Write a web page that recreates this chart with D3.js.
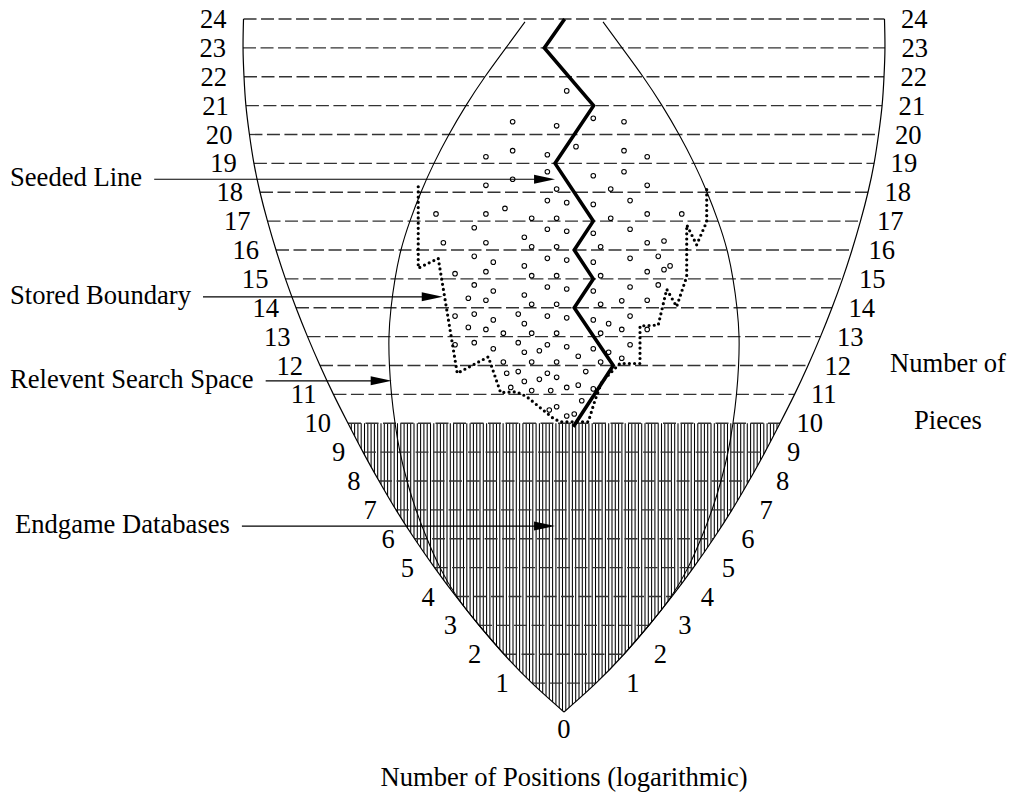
<!DOCTYPE html>
<html>
<head>
<meta charset="utf-8">
<script src="https://cdn.jsdelivr.net/npm/d3@7"></script>
<style>
  body { margin: 0; background: #fff; }
  text { font-family: "Liberation Serif", "Times New Roman", serif; font-size: 26.6px; fill: #000; }
</style>
</head>
<body>
<div id="chart"></div>
<script>
// Number of pieces on the board, one row per level.
var levels = d3.range(0, 25);

// Half width of the whole space at each level (log10 of the number of positions).
var outerWidth = [0, 2.0, 3.75, 5.31, 6.75, 8.09, 9.34, 10.5, 11.56, 12.56, 13.5, 14.41, 15.25,
                  16.03, 16.75, 17.41, 18.0, 18.53, 19.0, 19.38, 19.66, 19.88, 20.0, 20.06, 20.03];

// Half width of the relevant search space.
var innerLevels = [2, 3, 4, 5, 6, 7, 8, 9, 10, 11, 12, 13, 14, 15, 16, 17, 18, 19, 20, 21, 22, 23, 23.9];
var innerWidth  = [3.75, 5.3, 6.7, 7.75, 8.56, 9.25, 9.81, 10.25, 10.56, 10.78, 10.91, 10.94, 10.81,
                   10.56, 10.19, 9.63, 8.94, 8.13, 7.19, 6.13, 4.94, 3.63, 2.44];

// Endgame databases reach up to this many pieces.
var databaseLevel = 10;

// The seeded line (thick zig-zag).
var seedX     = [0.04, -1.23, 1.85, -0.56, 1.83, 0.64, 1.83, 0.64, 3.08, 0.58];
var seedLevel = [24, 23, 21, 19, 17, 16, 15, 14, 12, 9.88];

// The stored boundary (dotted).
var boundaryX     = [-9.11, -9.11, -7.86, -6.67, -4.73, -3.96, -2.96, -2.33, -0.67, -0.25, 1.52, 1.94,
                     2.36, 3.08, 3.5, 4.75, 4.75, 5.89, 6.42, 7.04, 7.67, 7.67, 8.29, 8.92, 8.92];
var boundaryLevel = [18.19, 15.37, 15.71, 11.73, 12.30, 11.06, 11.09, 10.92, 10.17, 10.05, 10.05, 10.80,
                     11.43, 11.84, 12.07, 12.07, 13.37, 13.40, 14.64, 14.04, 15.08, 16.87, 16.18, 16.98, 18.19];

// Searched positions (small open circles): [log positions, level].
var searched = [
  [0.17,21.51],[1.83,20.56],[-3.21,20.44],[-0.46,20.30],[3.75,20.44],
  [0.75,19.58],[-4.88,19.23],[-3.21,19.44],[-1.04,19.30],[3.75,19.44],[5.2,19.23],
  [-1.04,18.71],[1.83,18.57],[3.75,18.71],[-4.88,18.24],[-3.21,18.45],[-0.46,18.11],[2.92,18.11],[5.2,18.24],
  [-1.04,17.71],[0.17,17.64],[1.83,17.58],[4.13,17.71],
  [-8.0,17.25],[-4.88,17.25],[-3.69,17.44],[-2.02,17.10],[-0.46,17.10],[2.92,17.10],[5.2,17.25],[7.36,17.25],
  [-5.61,16.77],[-2.48,16.44],[-1.04,16.72],[0.17,16.65],[1.83,16.58],[4.13,16.72],
  [-7.54,16.25],[-4.88,16.25],[-2.02,16.11],[-0.46,16.11],[2.29,16.11],[5.2,16.25],[6.25,16.31],
  [-5.61,15.78],[-4.42,15.58],[-2.48,15.45],[-1.04,15.71],[0.17,15.65],[1.83,15.58],[4.13,15.71],[5.89,15.78],
  [-6.81,15.18],[-4.88,15.25],[-2.02,15.11],[-0.46,15.11],[2.29,15.11],[5.2,15.25],[6.25,15.32],[6.63,15.45],
  [-5.61,14.79],[-4.42,14.58],[-2.48,14.44],[-1.04,14.72],[0.17,14.65],[1.83,14.58],[4.13,14.72],[5.89,14.79],
  [-5.98,14.33],[-4.88,14.26],[-2.02,14.12],[-0.46,14.12],[2.29,14.12],[3.61,14.24],[5.2,14.26],
  [-6.81,13.71],[-5.61,13.78],[-4.42,13.58],[-2.86,13.78],[-2.48,13.45],[-1.04,13.71],[0.17,13.65],[1.83,13.58],[2.79,13.45],[4.13,13.71],
  [-5.98,13.32],[-4.88,13.25],[-3.79,13.12],[-2.02,13.12],[-0.46,13.12],[2.29,13.12],[3.61,13.25],[5.2,13.25],
  [-6.81,12.72],[-5.61,12.79],[-4.42,12.58],[-2.86,12.79],[-2.48,12.46],[-1.54,12.51],[-1.04,12.72],[0.17,12.65],
  [0.89,12.32],[1.83,12.58],[2.79,12.46],[4.13,12.72],
  [-3.79,12.12],[-2.02,12.12],[-0.46,12.12],[2.29,12.12],[3.61,12.25],
  [-3.58,11.73],[-2.86,11.79],[-1.54,11.52],[-1.04,11.73],[-0.46,11.59],[1.36,11.79],
  [-3.33,11.24],[-2.48,11.45],[-2.02,11.13],[-0.83,11.13],[0.17,11.24],[0.89,11.32],[1.83,11.19],
  [1.11,10.78],[-0.92,10.46],[-0.46,10.57],[0.17,10.25],[0.64,10.32]
];

// Annotations on the left, with the point each arrow touches.
var notes        = ["Seeded Line", "Stored Boundary", "Relevent Search Space", "Endgame Databases"];
var noteTipX     = [-0.56, -7.58, -10.77, -0.56];
var noteTipLevel = [18.45, 14.38, 11.47, 6.44];

var width = 1013, height = 792;

var xScale = d3.scaleLinear().domain([-20, 20]).range([244, 884]),
    yScale = d3.scaleLinear().domain([0, 24]).range([712, 19]);

var svg = d3.select("#chart").append("svg")
    .attr("width", width)
    .attr("height", height);

var curve = d3.line().curve(d3.curveNatural);

function sidePoints(lv, w, sign) {
  return lv.map(function(l, i) { return [xScale(sign * w[i]), yScale(l)]; });
}

// clip for the endgame database hatching
var outerArea = d3.area()
    .curve(d3.curveNatural)
    .y(function(d, i) { return yScale(levels[i]); })
    .x0(function(d) { return xScale(-d); })
    .x1(function(d) { return xScale(d); });

svg.append("clipPath").attr("id", "outerClip")
  .append("path").attr("d", outerArea(outerWidth));

// vertical hatching below the database level
var hw = outerWidth[databaseLevel];
svg.append("g")
    .attr("clip-path", "url(#outerClip)")
  .selectAll("line")
    .data(d3.range(xScale(-hw), xScale(hw) + 1, 3.3))
  .enter().append("line")
    .attr("x1", function(d) { return d; })
    .attr("x2", function(d) { return d; })
    .attr("y1", yScale(databaseLevel))
    .attr("y2", yScale(0))
    .attr("stroke", "#000")
    .attr("stroke-width", 1.05);

// dashed line for each number of pieces
svg.append("g").selectAll("line")
    .data(levels.slice(1))
  .enter().append("line")
    .attr("x1", function(l) { return xScale(-outerWidth[l]); })
    .attr("x2", function(l) { return xScale(outerWidth[l]); })
    .attr("y1", function(l) { return yScale(l); })
    .attr("y2", function(l) { return yScale(l); })
    .attr("stroke", "#333")
    .attr("stroke-width", 1.3)
    .attr("stroke-dasharray", "13,4.5");

// outer and inner curves
[-1, 1].forEach(function(s) {
  svg.append("path")
      .attr("d", curve(sidePoints(levels, outerWidth, s)))
      .attr("fill", "none").attr("stroke", "#000").attr("stroke-width", 1.2);
  svg.append("path")
      .attr("d", curve(sidePoints(innerLevels, innerWidth, s)))
      .attr("fill", "none").attr("stroke", "#000").attr("stroke-width", 1.1);
});

// searched positions
svg.append("g").selectAll("circle")
    .data(searched)
  .enter().append("circle")
    .attr("cx", function(d) { return xScale(d[0]); })
    .attr("cy", function(d) { return yScale(d[1]); })
    .attr("r", 2.3)
    .attr("fill", "#fff")
    .attr("stroke", "#000")
    .attr("stroke-width", 1.05);

// stored boundary
svg.append("path")
    .attr("d", d3.line()(boundaryX.map(function(x, i) { return [xScale(x), yScale(boundaryLevel[i])]; })))
    .attr("fill", "none")
    .attr("stroke", "#000")
    .attr("stroke-width", 3.2)
    .attr("stroke-linecap", "round")
    .attr("stroke-dasharray", "0,5.2");

// seeded line
svg.append("path")
    .attr("d", d3.line()(seedX.map(function(x, i) { return [xScale(x), yScale(seedLevel[i])]; })))
    .attr("fill", "none")
    .attr("stroke", "#000")
    .attr("stroke-width", 3.6)
    .attr("stroke-linejoin", "miter");

// level labels on both sides
function leftGap(l) { return l >= 10 ? 17 : 17 + 0.7 * (10 - l); }
function rightGap(l) { return l >= 10 ? 16.5 : (l === 9 ? 22 : 27 + 0.45 * (8 - l)); }

svg.append("g").selectAll("text")
    .data(levels.slice(1))
  .enter().append("text")
    .attr("x", function(l) { return xScale(-outerWidth[l]) - leftGap(l); })
    .attr("y", function(l) { return yScale(l) + 9; })
    .attr("text-anchor", "end")
    .text(function(l) { return l; });

svg.append("g").selectAll("text")
    .data(levels.slice(1))
  .enter().append("text")
    .attr("x", function(l) { return xScale(outerWidth[l]) + rightGap(l); })
    .attr("y", function(l) { return yScale(l) + 9; })
    .attr("text-anchor", "start")
    .text(function(l) { return l; });

svg.append("text")
    .attr("x", xScale(0))
    .attr("y", yScale(0) + 26)
    .attr("text-anchor", "middle")
    .text("0");

// annotations with arrows
var noteX = [10, 10, 10, 15];
notes.forEach(function(n, i) {
  var ty = yScale(noteTipLevel[i]), tx = xScale(noteTipX[i]);
  var t = svg.append("text")
      .attr("x", noteX[i])
      .attr("y", ty + 7)
      .text(n);
  var x0 = noteX[i] + t.node().getComputedTextLength() + 12;
  svg.append("line")
      .attr("x1", x0).attr("x2", tx - 10)
      .attr("y1", ty).attr("y2", ty)
      .attr("stroke", "#000").attr("stroke-width", 1.2);
  svg.append("path")
      .attr("d", "M" + tx + "," + ty + "L" + (tx - 21) + "," + (ty - 4.5) + "L" + (tx - 21) + "," + (ty + 4.5) + "Z")
      .attr("fill", "#000");
});

// axis titles
svg.append("text")
    .attr("x", 948).attr("y", 372)
    .attr("text-anchor", "middle")
    .text("Number of");
svg.append("text")
    .attr("x", 948).attr("y", 429)
    .attr("text-anchor", "middle")
    .text("Pieces");
svg.append("text")
    .attr("x", xScale(0)).attr("y", 786)
    .attr("text-anchor", "middle")
    .text("Number of Positions (logarithmic)");
</script>
</body>
</html>
